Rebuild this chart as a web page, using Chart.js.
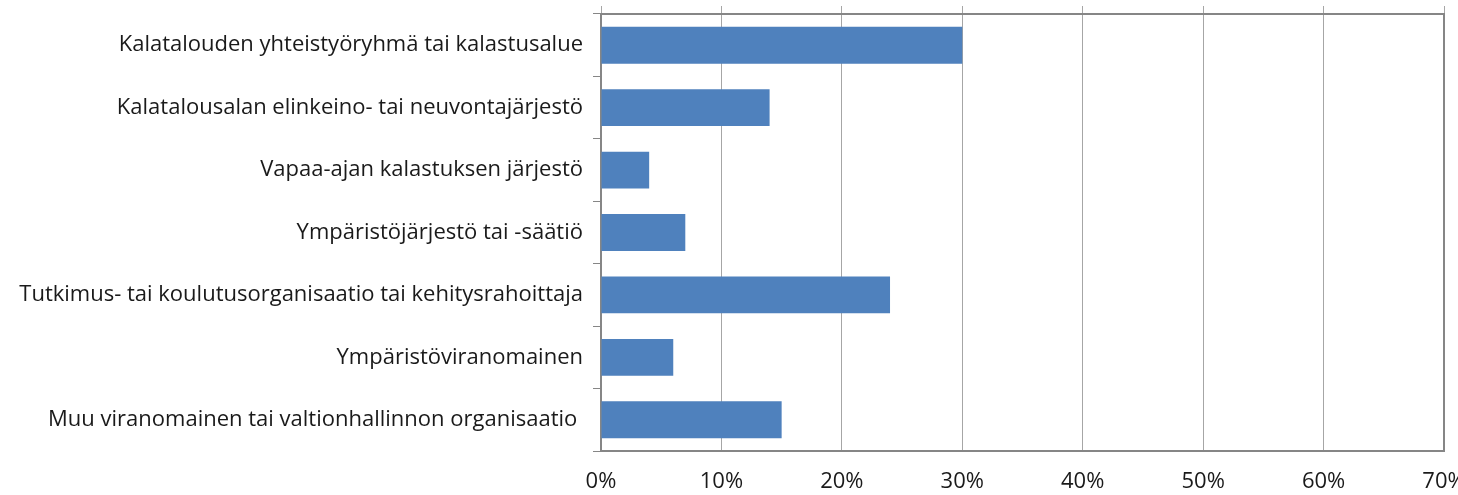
<!DOCTYPE html>
<html>
<head>
<meta charset="utf-8">
<script src="https://cdn.jsdelivr.net/npm/chart.js@4/dist/chart.umd.min.js"></script>
<style>
  html, body { margin: 0; padding: 0; background: #fff; }
  #wrap { width: 1458px; height: 495px; }
</style>
</head>
<body>
<div id="wrap"><canvas id="myChart" width="1458" height="495"></canvas></div>
<script>
// data
const labels = [
    'Kalatalouden yhteistyöryhmä tai kalastusalue',
    'Kalatalousalan elinkeino- tai neuvontajärjestö',
    'Vapaa-ajan kalastuksen järjestö',
    'Ympäristöjärjestö tai -säätiö',
    'Tutkimus- tai koulutusorganisaatio tai kehitysrahoittaja',
    'Ympäristöviranomainen',
    'Muu viranomainen tai valtionhallinnon organisaatio '
];
const shares = [30, 14, 4, 7, 24, 6, 15];
const xTicks = [0, 10, 20, 30, 40, 50, 60, 70];

const gridGray = '#a6a6a6';
const borderGray = '#868686';
const font = { family: '"Open Sans", sans-serif', size: 22 };

// keep the plot box fixed, no extra room for overhanging labels
function noPad(s) {
    s.paddingLeft = 0; s.paddingRight = 0;
    s.paddingTop = 0; s.paddingBottom = 0;
}

const config = {
    type: 'bar',
    data: {
        labels: labels,
        datasets: [{
            data: shares,
            backgroundColor: '#4f81bd',
            borderWidth: 0,
            barPercentage: 0.59,
            categoryPercentage: 1
        }]
    },
    options: {
        indexAxis: 'y',
        responsive: false,
        animation: false,
        layout: { padding: 0 },
        plugins: { legend: { display: false }, tooltip: { enabled: false } },
        scales: {
            x: {
                position: 'bottom',
                min: 0, max: 70,
                afterBuildTicks: s => { s.ticks = xTicks.map(v => ({ value: v })); },
                afterFit: s => { s.height = 44; noPad(s); },
                grid: { color: gridGray, lineWidth: 1, drawTicks: false },
                border: { color: borderGray, width: 2 },
                ticks: { color: '#1a1a1a', font: font, padding: 18, maxRotation: 0, callback: v => v + '%' }
            },
            x2: {
                position: 'top',
                min: 0, max: 70,
                afterBuildTicks: s => { s.ticks = xTicks.map(v => ({ value: v })); },
                afterFit: s => { s.height = 14; noPad(s); },
                grid: { color: gridGray, drawOnChartArea: false, tickLength: 8 },
                border: { color: borderGray, width: 2 },
                ticks: { display: false }
            },
            y: {
                position: 'left',
                afterFit: s => { s.width = 601; noPad(s); },
                grid: { color: borderGray, drawOnChartArea: false, tickLength: 8, offset: true },
                border: { color: borderGray, width: 2 },
                ticks: { color: '#1a1a1a', font: font, padding: 10 }
            },
            y2: {
                position: 'right',
                type: 'category',
                labels: labels,
                afterFit: s => { s.width = 14; noPad(s); },
                grid: { display: false },
                border: { color: borderGray, width: 2 },
                ticks: { display: false }
            }
        }
    }
};

new Chart(document.getElementById('myChart'), config);
</script>
</body>
</html>
